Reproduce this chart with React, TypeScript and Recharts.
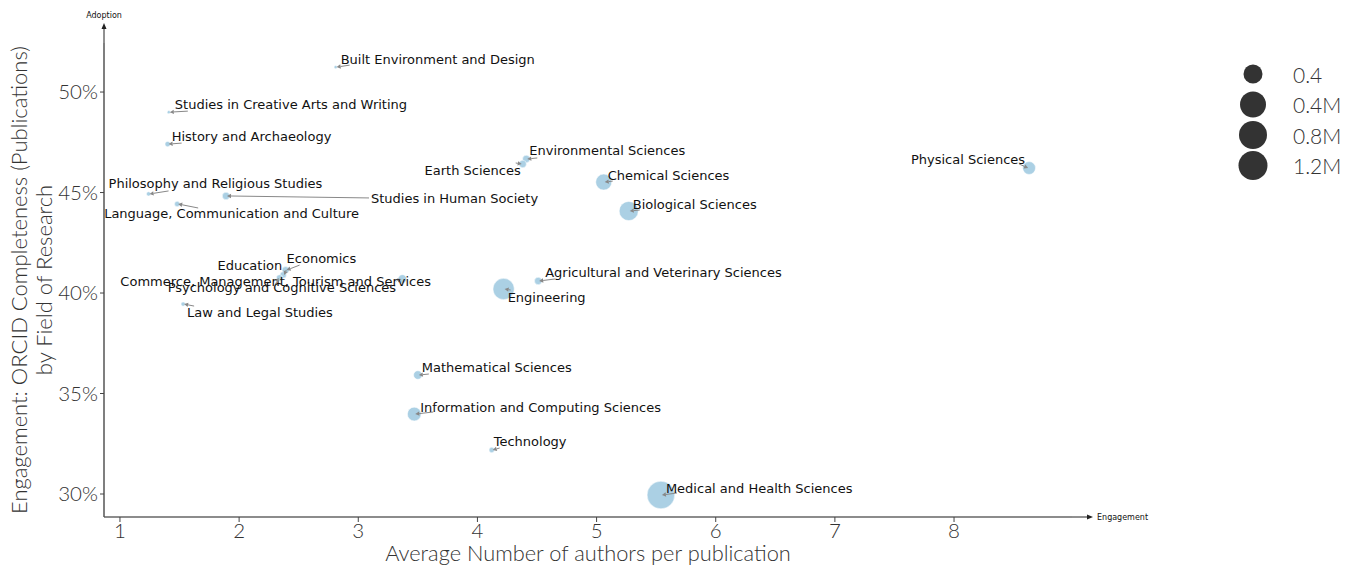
import React from "react";
import {
  ScatterChart,
  Scatter,
  XAxis,
  YAxis,
  ZAxis,
  Customized
} from "recharts";

const fields = [
  "Built Environment and Design",
  "Studies in Creative Arts and Writing",
  "History and Archaeology",
  "Environmental Sciences",
  "Earth Sciences",
  "Physical Sciences",
  "Chemical Sciences",
  "Philosophy and Religious Studies",
  "Studies in Human Society",
  "Language, Communication and Culture",
  "Biological Sciences",
  "Economics",
  "Education",
  "Commerce, Management, Tourism and Services",
  "Psychology and Cognitive Sciences",
  "Agricultural and Veterinary Sciences",
  "Engineering",
  "Law and Legal Studies",
  "Mathematical Sciences",
  "Information and Computing Sciences",
  "Technology",
  "Medical and Health Sciences"
];

// average number of authors per publication
const authorsPerPub = [
  2.81, 1.41, 1.4, 4.41, 4.38, 8.63, 5.06, 1.24, 1.89, 1.48, 5.27, 2.39, 2.37,
  3.37, 2.34, 4.51, 4.22, 1.53, 3.5, 3.47, 4.12, 5.54
];

// ORCID completeness (%)
const orcidCompleteness = [
  51.24, 49.0, 47.41, 46.67, 46.42, 46.22, 45.52, 44.93, 44.83, 44.43, 44.08,
  41.14, 40.9, 40.7, 40.75, 40.6, 40.2, 39.45, 35.92, 33.98, 32.19, 29.95
];

const publications = [
  17000, 17000, 46000, 90000, 90000, 270000, 420000, 30000, 90000, 46000,
  600000, 80000, 67000, 120000, 67000, 90000, 740000, 30000, 120000, 310000,
  46000, 1250000
];

const xTicks = [1, 2, 3, 4, 5, 6, 7, 8];
const yTicks = [30, 35, 40, 45, 50];
const legendLabels = ["0.4", "0.4M", "0.8M", "1.2M"];

// label placement: text offset, anchor, arrow start offset (px, from the point)
const labelLayout: [number, number, string, number, number][] = [
  [5, -8, "start", 14, -2],
  [6, -8, "start", 19, -1],
  [4, -8, "start", 14, -1],
  [3, -8, "start", 11, -1],
  [-2, 7, "end", -7, -1],
  [-4, -9, "end", -10, -4],
  [4, -7, "start", 9, -1],
  [-40, -10, "start", 20, -3],
  [145, 3, "start", 143, 2],
  [-73, 10, "start", 21, 4],
  [4, -7, "start", 11, -1],
  [1, -12, "start", 14, -5],
  [-1, -9, "end", 3, -5],
  [-282, 3, "start", -6, 2],
  [-112, 10, "start", -4, 6],
  [7, -8, "start", 17, -2],
  [4, 8, "start", 7, 1],
  [4, 8, "start", 11, 2],
  [4, -8, "start", 11, -1],
  [6, -7, "start", 19, -2],
  [2, -8, "start", 8, -2],
  [5, -7, "start", 16, -2]
];

const legendRadius = [9.5, 13, 14, 14.5];

const data = fields.map((name, i) => ({
  name,
  x: authorsPerPub[i],
  y: orcidCompleteness[i],
  z: publications[i],
  idx: i
}));

const tickStyle = {
  fontFamily: "Lato",
  fontWeight: 300,
  fontSize: 20.5,
  fill: "#333"
};

const BUBBLE = "#a6cee3";

const Bubble = (props: any) => {
  const { cx, cy, size } = props;
  const r = Math.sqrt((size || 0) / Math.PI);
  return <circle cx={cx} cy={cy} r={r} fill={BUBBLE} fillOpacity={0.95} stroke="#fff" strokeWidth={0.5} />;
};

const Arrow = ({ x1, y1, x2, y2 }: any) => {
  const dx = x2 - x1;
  const dy = y2 - y1;
  const len = Math.sqrt(dx * dx + dy * dy) || 1;
  const ux = dx / len;
  const uy = dy / len;
  const hl = 4;
  const hw = 2.2;
  const bx = x2 - ux * hl;
  const by = y2 - uy * hl;
  return (
    <g>
      <line x1={x1} y1={y1} x2={bx} y2={by} stroke="#888" strokeWidth={1} />
      <polygon
        points={`${x2},${y2} ${bx - uy * hw},${by + ux * hw} ${bx + uy * hw},${by - ux * hw}`}
        fill="#888"
      />
    </g>
  );
};

const PointLabel = (props: any) => {
  const { cx, cy, payload } = props;
  const [dx, dy, anchor, ax, ay] = labelLayout[payload.idx];
  return (
    <g>
      <Arrow x1={cx + ax} y1={cy + ay} x2={cx + (ax > 0 ? 1 : -1)} y2={cy} />
      <text
        x={cx + dx}
        y={cy + dy}
        textAnchor={anchor}
        dominantBaseline="central"
        fontFamily="DejaVu Sans"
        fontSize={13}
        fill="#111"
      >
        {payload.name}
      </text>
    </g>
  );
};

const Decorations = () => (
  <g>
    {/* axis arrows */}
    <line x1={104} y1={43} x2={104} y2={28} stroke="#222" strokeWidth={1} />
    <polygon points="104,23 101.5,29 106.5,29" fill="#222" />
    <text x={104} y={15} textAnchor="middle" dominantBaseline="central" fontFamily="DejaVu Sans" fontSize={8} fill="#111">
      Adoption
    </text>
    <line x1={1072} y1={517} x2={1088} y2={517} stroke="#222" strokeWidth={1} />
    <polygon points="1093,517 1087,514.5 1087,519.5" fill="#222" />
    <text x={1097} y={517} dominantBaseline="central" fontFamily="DejaVu Sans" fontSize={8} fill="#111">
      Engagement
    </text>
    {/* axis titles */}
    <text x={588} y={561} textAnchor="middle" fontFamily="Lato" fontWeight={300} fontSize={21.8} fill="#333">
      Average Number of authors per publication
    </text>
    <text
      x={18}
      y={280}
      transform="rotate(-90 18 280)"
      textAnchor="middle"
      dominantBaseline="central"
      fontFamily="Lato"
      fontWeight={300}
      fontSize={22}
      fill="#333"
    >
      Engagement: ORCID Completeness (Publications)
    </text>
    <text
      x={43}
      y={280}
      transform="rotate(-90 43 280)"
      textAnchor="middle"
      dominantBaseline="central"
      fontFamily="Lato"
      fontWeight={300}
      fontSize={22}
      fill="#333"
    >
      by Field of Research
    </text>
    {/* size legend */}
    {legendLabels.map((l, i) => (
      <g key={l}>
        <circle cx={1253} cy={74 + i * 30.5} r={legendRadius[i]} fill="#333" />
        <text x={1293} y={74 + i * 30.5} dominantBaseline="central" fontFamily="Lato" fontWeight={300} fontSize={21} fill="#333">
          {l}
        </text>
      </g>
    ))}
  </g>
);

export default function App() {
  return (
    <div style={{ position: "absolute", left: 0, top: 0, background: "#fff" }}>
      <ScatterChart
        width={1354}
        height={569}
        margin={{ top: 43, right: 282, bottom: 0, left: 0 }}
      >
        <XAxis
          type="number"
          dataKey="x"
          domain={[0.866, 8.99]}
          ticks={xTicks}
          allowDataOverflow
          height={52}
          tick={tickStyle}
          tickSize={5}
          tickMargin={1}
          stroke="#666"
          axisLine={{ stroke: "#666", strokeWidth: 1.5 }}
          tickLine={{ stroke: "#444" }}
        />
        <YAxis
          type="number"
          dataKey="y"
          domain={[28.856, 52.44]}
          ticks={yTicks}
          allowDataOverflow
          width={104}
          tick={tickStyle}
          tickFormatter={(v: number) => `${v}%`}
          tickSize={4}
          tickMargin={2}
          axisLine={{ stroke: "#555", strokeWidth: 1.5 }}
          tickLine={{ stroke: "#444" }}
        />
        <ZAxis type="number" dataKey="z" domain={[0, 1250000]} range={[0, 600]} />
        <Scatter data={data} shape={Bubble} isAnimationActive={false} />
        <Scatter data={data} shape={PointLabel} isAnimationActive={false} />
        <Customized component={Decorations} />
      </ScatterChart>
    </div>
  );
}
